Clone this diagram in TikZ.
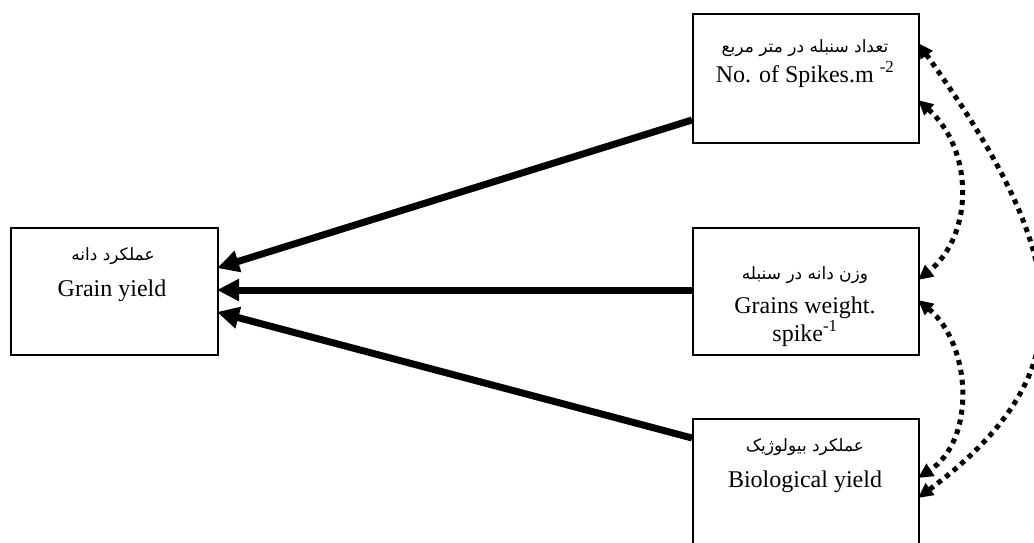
\documentclass[tikz,border=0pt]{standalone}
\usepackage{fontspec}
\setmainfont{Liberation Serif}
\newfontfamily\arabicfont[Script=Arabic]{DejaVu Sans}
\TeXXeTstate=1
\usetikzlibrary{arrows.meta}
\begin{document}
\begin{tikzpicture}[x=1pt,y=-1pt,
  box/.style={draw, line width=1.6pt, inner sep=0pt, anchor=north west},
  en/.style={font=\fontsize{24}{28}\selectfont, anchor=base, inner sep=0pt},
  fa/.style={font=\arabicfont\fontsize{17}{20}\selectfont, anchor=base, inner sep=0pt},
  mainarrow/.style={line width=7pt, -{Triangle[length=22pt,width=21pt]}},
  corr/.style={line width=5pt, dash pattern=on 5pt off 5pt,
    {Triangle[length=15pt,width=14pt]}-{Triangle[length=15pt,width=14pt]}}
]
\useasboundingbox (0,0) rectangle (1034,543);
\clip (0,0) rectangle (1034,543);

% boxes
\node[box, minimum width=207pt, minimum height=127pt] (gy) at (10,227) {};
\node[box, minimum width=226pt, minimum height=129pt] (nsp) at (692,13) {};
\node[box, minimum width=226pt, minimum height=127pt] (gw) at (692,227) {};
\node[box, minimum width=226pt, minimum height=170pt] (by) at (692,418) {};

% texts
\node[fa] (gyfa) at (113,260) {\beginR عملکرد دانه\endR};
\node[en] (gyen) at (112,296) {Grain yield};
\node[fa] (nspfa) at (805,53) {\beginR تعداد سنبله در متر مربع\endR};
\node[en] (nspen) at (805,82) {No. of Spikes.m \textsuperscript{-2}};
\node[fa] (gwfa) at (805,279) {\beginR وزن دانه در سنبله\endR};
\node[en] (gwen) at (805,313) {Grains weight.};
\node[en] (gwen2) at (805,341) {spike\textsuperscript{-1}};
\node[fa] (byfa) at (805,451) {\beginR عملکرد بیولوژیک\endR};
\node[en] (byen) at (805,487) {Biological yield};

% connector end points
\coordinate (nspA) at (692,120);
\coordinate (gwA) at (692,290);
\coordinate (byA) at (692,438);
\coordinate (gy1) at (217,268);
\coordinate (gy2) at (217,290);
\coordinate (gy3) at (217,312);

\coordinate (nspR1) at (918,43);
\coordinate (nspR2) at (918,100);
\coordinate (gwR1) at (918,280);
\coordinate (gwR2) at (918,300);
\coordinate (byR1) at (918,478);
\coordinate (byR2) at (918,498);

% causal arrows
\draw[mainarrow] (nspA) -- (gy1);
\draw[mainarrow] (gwA) -- (gy2);
\draw[mainarrow] (byA) -- (gy3);

% correlations
\draw[corr] (nspR1) .. controls (1070,255) and (1090,370) .. (byR2);
\draw[corr] (nspR2) .. controls (974,150) and (974,235) .. (gwR1);
\draw[corr] (gwR2) .. controls (972,345) and (976,440) .. (byR1);
\end{tikzpicture}
\end{document}
